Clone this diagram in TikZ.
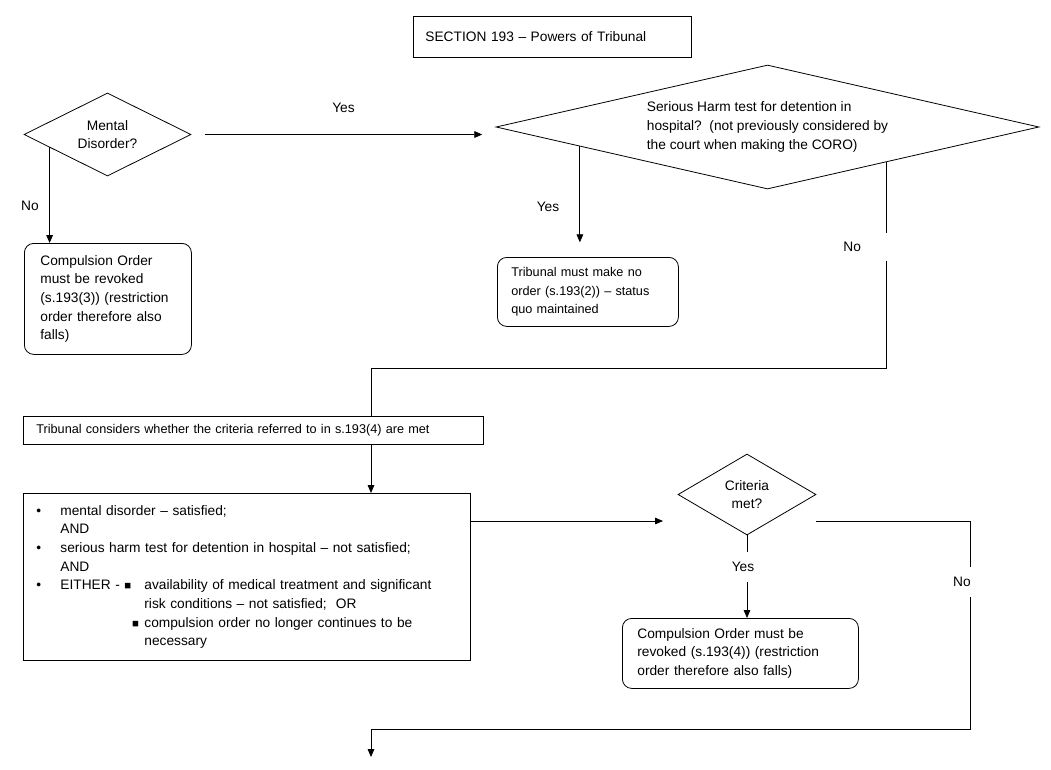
\documentclass[tikz,border=0pt]{standalone}
\usepackage{fontspec}
\setmainfont{Liberation Sans}
\usetikzlibrary{shapes.geometric,arrows.meta,calc}
\newcommand{\sqbullet}{{\fontsize{8.5}{14}\selectfont ■}}
\begin{document}
\begin{tikzpicture}[x=0.75pt,y=-0.75pt,
		font=\fontsize{10.3}{14}\selectfont,
		line width=0.6pt, >={Triangle[length=6pt,width=5pt]},
		decision/.style={draw,diamond,shape aspect=2,inner sep=0pt,align=center},
		outcome/.style={draw,rounded corners=7pt,anchor=north west,align=left,inner ysep=0pt},
		textbox/.style={draw,anchor=north west,align=left,inner ysep=0pt},
		small/.style={font=\fontsize{9.5}{14}\selectfont},
		tag/.style={inner sep=1pt}]
		\useasboundingbox (0,0) rectangle (1051,769);
		\node[textbox,minimum width=208.5pt,minimum height=30.75pt,text width=190.5pt,inner xsep=9pt] (E) at (413,16) {SECTION 193 – Powers of Tribunal};
		\node[decision,minimum width=125.25pt,minimum height=62.25pt] (A) at (107.5,134.5) {Mental\\
			Disorder?};
		\node[decision,shape aspect=4.4,align=left,minimum width=407.25pt,minimum height=93pt] (C) at (767.5,127) {Serious Harm test for detention in\\
			hospital?\ \ (not previously considered by\\
			the court when making the CORO)};
		\node[outcome,minimum width=125.25pt,minimum height=83.25pt,text width=101.25pt,inner xsep=12pt] (B) at (24,243) {Compulsion Order\\
			must be revoked\\
			(s.193(3)) (restriction\\
			order therefore also\\
			falls)};
		\node[outcome,small,minimum width=135.75pt,minimum height=51.75pt,text width=114.75pt,inner xsep=10.5pt] (D) at (497,257) {Tribunal must make no\\
			order (s.193(2)) – status\\
			quo maintained};
		\node[textbox,small,minimum width=345pt,minimum height=21pt,text width=325.5pt,inner xsep=9.75pt] (F) at (23,416) {Tribunal considers whether the criteria referred to in s.193(4) are met};
		\node[textbox,minimum width=335.25pt,minimum height=125.25pt,text width=315.75pt,inner xsep=9.75pt] (G) at (23,493) {%
			\begin{tabular}{@{}p{18pt}@{}p{63pt}@{}l@{}}
				• & \multicolumn{2}{@{}l@{}}{mental disorder – satisfied;}\\
				& \multicolumn{2}{@{}l@{}}{AND}\\
				• & \multicolumn{2}{@{}l@{}}{serious harm test for detention in hospital – not satisfied;}\\
				& \multicolumn{2}{@{}l@{}}{AND}\\
				• & EITHER -\ \sqbullet\hfill & availability of medical treatment and significant\\
				& & risk conditions – not satisfied;\ \ OR\\
				& \hfill\sqbullet\hspace{4pt} & compulsion order no longer continues to be\\
				& & necessary
			\end{tabular}};
		\node[decision,shape aspect=1.7,minimum width=103.5pt,minimum height=60.75pt] (H) at (747,494.5) {Criteria\\
			met?};
		\node[outcome,minimum width=177pt,minimum height=52.5pt,text width=154.5pt,inner xsep=11.25pt] (I) at (622,618) {Compulsion Order must be\\
			revoked (s.193(4)) (restriction\\
			order therefore also falls)};
		% joints of the long connectors
		\coordinate (j1) at (371,368);
		\coordinate (j2) at (663,521);
		\coordinate (j3) at (970,729);
		\coordinate (j4) at (371,757);
		\draw[->] ($(A.west)!.31!(A.south)$) coordinate (a1) -- (a1 |- B.north);
		\draw[->,shorten <=10pt,shorten >=10pt] (A.east) -- (A.east -| C.west) node[midway,above=13pt] {Yes};
		\draw[->,shorten >=11pt] ($(C.west)!.31!(C.south)$) coordinate (c1) -- (c1 |- D.north);
		\draw ($(C.south)!.4375!(C.east)$) coordinate (c2) |- (j1) -- (j1 |- F.north);
		\draw[->] (j1 |- F.south) -- (j1 |- G.north);
		\draw[->] (G.east |- j2) -- (j2);
		\draw[->] (H.south) -- (H.south |- I.north);
		\draw[->] (H.east |- j2) -| (j3) -| (j4);
		% labels
		\node[tag] (n1) at (30,206) {No};
		\node[tag] (y2) at (548,207) {Yes};
		\node[tag,fill=white,text width=34pt,inner xsep=2pt,minimum height=21pt,align=left] (n2) at (866,247) {No};
		\node[tag,fill=white,minimum height=22pt] (y3) at (743,567) {Yes};
		\node[tag,fill=white,minimum height=22pt] (n3) at (962,582) {No};
	\end{tikzpicture}
\end{document}
